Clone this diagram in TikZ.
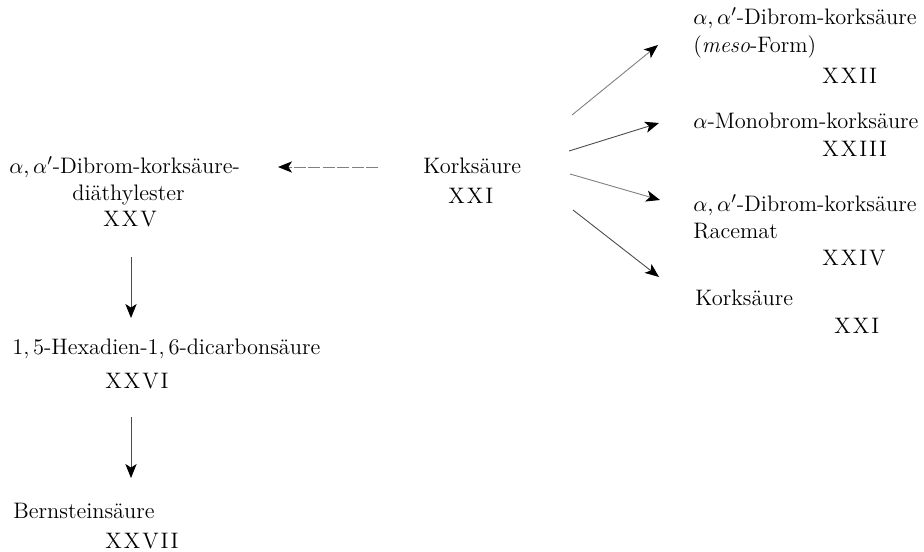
\documentclass[tikz,border=0pt]{standalone}
\usetikzlibrary{arrows.meta}
\begin{document}
\begin{tikzpicture}[x=0.5pt,y=-0.5pt,
  txt/.style={anchor=west,inner sep=0pt,font=\fontsize{11.2}{13}\selectfont},
  arr/.style={draw=black!70,line width=0.45pt,-{Stealth[length=7pt,width=5.6pt,inset=1.8pt,color=black]}},
  faint/.style={arr,draw=black!50},
  dsh/.style={arr,draw=black!50,dash pattern=on 6pt off 1.2pt}]
\useasboundingbox (0,0) rectangle (924,551);
% centre
\node[txt] (kork) at (423,166) {Korksäure};
\node[txt] (xxi) at (448,196) {X\kern1pt X\kern1pt I};
% left column
\node[txt] (dibe) at (9,167) {$\alpha,\alpha'$-Dibrom-korksäure-};
\node[txt] (diae) at (72,195) {diäthylester};
\node[txt] (xxv) at (103,219) {X\kern1pt X\kern1pt V};
\node[txt] (hex) at (12,349) {1,\,5-Hexadien-1,\,6-dicarbonsäure};
\node[txt] (xxvi) at (105,381) {X\kern1pt X\kern1pt V\kern1pt I};
\node[txt] (bern) at (13,511) {Bernsteinsäure};
\node[txt] (xxvii) at (105,541) {X\kern1pt X\kern1pt V\kern1pt I\kern1pt I};
% right column
\node[txt] (d1) at (693,18) {$\alpha,\alpha'$-Dibrom-korksäure};
\node[txt] (meso) at (693,47) {(\textit{meso}-Form)};
\node[txt] (xxii) at (822,76) {X\kern1pt X\kern1pt I\kern1pt I};
\node[txt] (mono) at (693,121) {$\alpha$-Monobrom-korksäure};
\node[txt] (xxiii) at (822,149) {X\kern1pt X\kern1pt I\kern1pt I\kern1pt I};
\node[txt] (d2) at (693,205) {$\alpha,\alpha'$-Dibrom-korksäure};
\node[txt] (rac) at (693,231) {Racemat};
\node[txt] (xxiv) at (822,258) {X\kern1pt X\kern1pt I\kern1pt V};
\node[txt] (k2) at (695,298) {Korksäure};
\node[txt] (xxib) at (834,326) {X\kern1pt X\kern1pt I};
% arrows
\draw[dsh] ([shift={(-45,1)}]kork.west) -- ([shift={(269,0)}]dibe.west);
\draw[faint] ([shift={(149,-51)}]kork.west) -- ([shift={(-35,-2)}]meso.west);
\draw[arr] ([shift={(146,-15)}]kork.west) -- ([shift={(-34,2)}]mono.west);
\draw[faint] ([shift={(147,8)}]kork.west) -- ([shift={(-33,-5)}]d2.west);
\draw[arr] ([shift={(150,44)}]kork.west) -- ([shift={(-36,-21)}]k2.west);
\draw[arr] ([shift={(28,38)}]xxv.west) -- ([shift={(119,-31)}]hex.west);
\draw[arr] ([shift={(26,36)}]xxvi.west) -- ([shift={(118,-33)}]bern.west);
\end{tikzpicture}
\end{document}
